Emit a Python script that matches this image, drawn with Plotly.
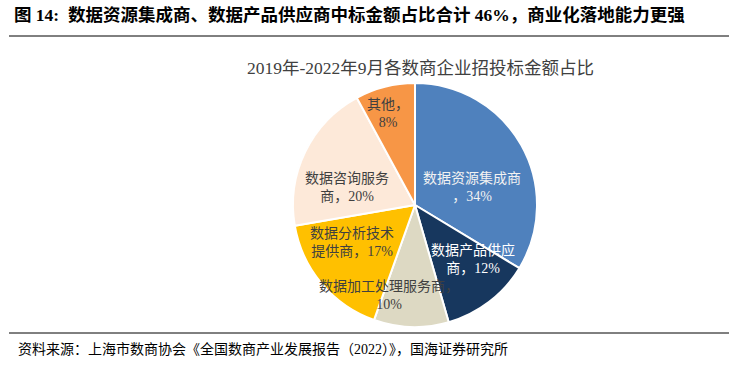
import math
import plotly.graph_objects as go

categories = ["数据资源集成商", "数据产品供应商", "数据加工处理服务商", "数据分析技术提供商", "数据咨询服务商", "其他"]
values = [34, 12, 10, 17, 20, 8]
label_texts = ["数据资源集成商<br>，34%", "数据产品供应<br>商，12%", "数据加工处理服务商，<br>10%",
               "数据分析技术<br>提供商，17%", "数据咨询服务<br>商，20%", "其他，<br>8%"]

colors = ["#4F81BD", "#17375E", "#DDD9C3", "#FFC000", "#FDE9D9", "#F79646"]
text_colors = ["#F2F2F2", "#FFFFFF", "#404040", "#404040", "#404040", "#404040"]
# label placement style: radial fraction and angular nudge (degrees)
label_radius = [0.49, 0.65, 0.775, 0.60, 0.58, 0.78]
label_angle_nudge = [12, -9.6, 14, 9.7, -11.2, -2.1]

W, H = 729, 366
cx, cy, r = 415, 205, 122
FONT = "Liberation Serif, Noto Sans CJK SC"

fig = go.Figure(go.Pie(
    labels=categories, values=values, sort=False, direction="clockwise", rotation=0,
    marker=dict(colors=colors, line=dict(color="#FFFFFF", width=2)),
    textinfo="none", hoverinfo="label+percent", showlegend=False,
    domain=dict(x=[(cx - r) / W, (cx + r) / W], y=[1 - (cy + r) / H, 1 - (cy - r) / H]),
))

total = sum(values)
cum = 0
annotations = []
for i, v in enumerate(values):
    mid = (cum + v / 2) / total * 2 * math.pi + math.radians(label_angle_nudge[i])
    cum += v
    px = cx + label_radius[i] * r * math.sin(mid)
    py = cy - label_radius[i] * r * math.cos(mid)
    annotations.append(dict(x=px / W, y=1 - py / H, xref="paper", yref="paper", text=label_texts[i],
                            xanchor="center", yanchor="middle",
                            showarrow=False, font=dict(size=14, color=text_colors[i], family=FONT),
                            align="center"))

annotations.append(dict(x=12 / W, y=1 - 15 / H, xref="paper", yref="paper", xanchor="left", yanchor="middle",
                        text="<b>图 14:  数据资源集成商、数据产品供应商中标金额占比合计 46%，商业化落地能力更强</b>",
                        showarrow=False, font=dict(size=17.5, color="#000000", family=FONT)))
annotations.append(dict(x=420 / W, y=1 - 68 / H, xref="paper", yref="paper", xanchor="center", yanchor="middle",
                        text="2019年-2022年9月各数商企业招投标金额占比",
                        showarrow=False, font=dict(size=17.5, color="#404040", family=FONT)))
annotations.append(dict(x=16 / W, y=1 - 349 / H, xref="paper", yref="paper", xanchor="left", yanchor="middle",
                        text="资料来源：上海市数商协会《全国数商产业发展报告（2022）》，国海证券研究所",
                        showarrow=False, font=dict(size=14, color="#000000", family=FONT)))

shapes = [
    dict(type="line", xref="paper", yref="paper", x0=9 / W, x1=1, y0=1 - 36 / H, y1=1 - 36 / H,
         line=dict(color="#000000", width=1)),
    dict(type="line", xref="paper", yref="paper", x0=9 / W, x1=1, y0=1 - 333 / H, y1=1 - 333 / H,
         line=dict(color="#000000", width=1)),
]

fig.update_layout(width=W, height=H, margin=dict(l=0, r=0, t=0, b=0),
                  paper_bgcolor="#FFFFFF", plot_bgcolor="#FFFFFF",
                  annotations=annotations, shapes=shapes)
fig.write_html("out.html", config={"displayModeBar": False},
               post_script="document.body.style.margin='0';")
